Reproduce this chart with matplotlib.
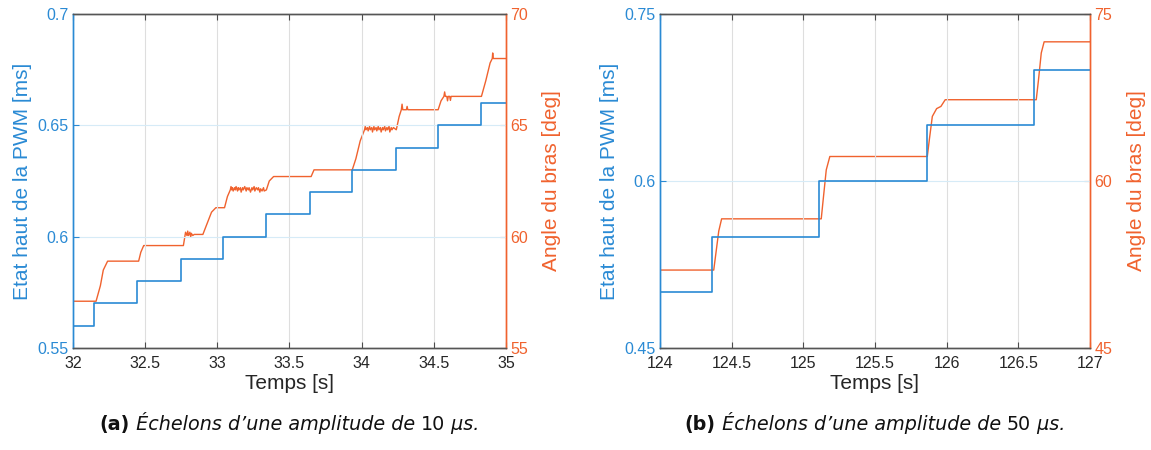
import numpy as np
import matplotlib
matplotlib.use("Agg")
import matplotlib.pyplot as plt

plt.rcParams['font.family'] = ['Liberation Sans', 'DejaVu Sans']

BLUE = '#2A8AD4'
ORANGE = '#F0622E'

# ---- panel (a): steps of 10 us ----
a_pwm_t = [32.0, 32.145, 32.445, 32.745, 33.04, 33.34, 33.64, 33.935, 34.235, 34.53, 34.83, 35.0]
a_pwm_v = [0.56, 0.57, 0.58, 0.59, 0.60, 0.61, 0.62, 0.63, 0.64, 0.65, 0.66, 0.66]

a_ang_t = [32.00, 32.16, 32.19, 32.21, 32.24, 32.455, 32.47, 32.49, 32.765, 32.775, 32.78,
           32.79, 32.795, 32.80, 32.81, 32.815, 32.82, 32.83, 32.84, 32.85, 32.90, 32.93,
           32.96, 32.99, 33.05, 33.07, 33.09,
           33.095, 33.10, 33.105, 33.11, 33.12, 33.125, 33.13, 33.14, 33.145, 33.15, 33.16,
           33.165, 33.175, 33.18, 33.19, 33.20, 33.205, 33.215, 33.22, 33.23, 33.24, 33.245,
           33.255, 33.26, 33.27, 33.28, 33.285, 33.295, 33.30, 33.31, 33.32, 33.325, 33.34,
           33.36, 33.39, 33.65, 33.67, 33.935, 33.96, 33.99, 34.02,
           34.025, 34.03, 34.04, 34.045, 34.055, 34.06, 34.07, 34.075, 34.085, 34.09, 34.10,
           34.105, 34.115, 34.12, 34.13, 34.135, 34.145, 34.15, 34.16, 34.165, 34.175, 34.18,
           34.19, 34.195, 34.205, 34.21, 34.22, 34.24,
           34.26, 34.275, 34.28, 34.285, 34.31, 34.315, 34.32, 34.53, 34.55, 34.57, 34.575,
           34.58, 34.59, 34.595, 34.60, 34.61, 34.615, 34.62, 34.83, 34.86, 34.89, 34.905,
           34.908, 34.912, 35.00]
a_ang_v = [57.1, 57.1, 57.8, 58.5, 58.9, 58.9, 59.3, 59.6, 59.6, 60.0, 60.2,
           60.05, 60.25, 60.05, 60.2, 60.0, 60.15, 60.05, 60.1, 60.1, 60.1, 60.6,
           61.1, 61.3, 61.3, 61.8, 62.1,
           62.25, 62.1, 62.2, 62.05, 62.2, 62.1, 62.25, 62.05, 62.2, 62.1, 62.2,
           62.0, 62.2, 62.1, 62.25, 62.05, 62.2, 62.1, 62.2, 62.0, 62.2, 62.1,
           62.25, 62.05, 62.2, 62.1, 62.2, 62.0, 62.15, 62.05, 62.2, 62.05, 62.1,
           62.5, 62.7, 62.7, 63.0, 63.0, 63.5, 64.3, 64.8,
           64.95, 64.8, 64.9, 64.75, 64.95, 64.8, 64.9, 64.7, 64.95, 64.8, 64.9,
           64.75, 64.95, 64.8, 64.9, 64.7, 64.9, 64.8, 64.95, 64.75, 64.9, 64.8,
           64.95, 64.7, 64.9, 64.8, 64.9, 64.8,
           65.4, 65.7, 65.95, 65.7, 65.7, 65.85, 65.7, 65.7, 66.1, 66.3, 66.5,
           66.3, 66.3, 66.1, 66.3, 66.3, 66.12, 66.3, 66.3, 67.0, 67.8, 68.0,
           68.25, 68.0, 68.0]

# ---- panel (b): steps of 50 us ----
b_pwm_t = [124.0, 124.36, 125.11, 125.86, 126.61, 127.0]
b_pwm_v = [0.50, 0.55, 0.60, 0.65, 0.70, 0.70]

b_ang_t = [124.00, 124.375, 124.39, 124.41, 124.43, 125.125, 125.14, 125.16, 125.185,
           125.865, 125.88, 125.90, 125.93, 125.96, 125.99, 126.625, 126.64, 126.66,
           126.68, 127.00]
b_ang_v = [52.0, 52.0, 53.5, 55.5, 56.6, 56.6, 58.5, 61.0, 62.2,
           62.2, 63.8, 65.8, 66.5, 66.7, 67.3, 67.3, 69.0, 71.5,
           72.5, 72.5]

panels = [
    dict(pos=[0.0634, 0.2267, 0.3762, 0.7422], xlim=(32, 35), xt=[32, 32.5, 33, 33.5, 34, 34.5, 35],
         xtl=['32', '32.5', '33', '33.5', '34', '34.5', '35'],
         ylim=(0.55, 0.7), yt=[0.55, 0.6, 0.65, 0.7], ytl=['0.55', '0.6', '0.65', '0.7'],
         y2lim=(55, 70), y2t=[55, 60, 65, 70],
         pt=a_pwm_t, pv=a_pwm_v, at=a_ang_t, av=a_ang_v,
         cap=('(a)', ' Échelons d\u2019une amplitude de ', '10', ' \u03bcs.')),
    dict(pos=[0.5734, 0.2267, 0.3736, 0.7422], xlim=(124, 127),
         xt=[124, 124.5, 125, 125.5, 126, 126.5, 127],
         xtl=['124', '124.5', '125', '125.5', '126', '126.5', '127'],
         ylim=(0.45, 0.75), yt=[0.45, 0.6, 0.75], ytl=['0.45', '0.6', '0.75'],
         y2lim=(45, 75), y2t=[45, 60, 75],
         pt=b_pwm_t, pv=b_pwm_v, at=b_ang_t, av=b_ang_v,
         cap=('(b)', ' Échelons d\u2019une amplitude de ', '50', ' \u03bcs.')),
]

fig = plt.figure(figsize=(11.51, 4.5), dpi=100)
caps = []
for p in panels:
    ax = fig.add_axes(p['pos'])
    ax2 = ax.twinx()
    ax.set_zorder(ax2.get_zorder() + 1)
    ax.patch.set_visible(False)

    # grid: vertical grey, horizontal light blue
    for x in p['xt'][1:-1]:
        ax.axvline(x, color='#DEDEDE', lw=0.8, zorder=0)
    for y in p['yt'][1:-1]:
        ax.axhline(y, color='#D6EBF7', lw=0.8, zorder=0)

    ax2.plot(p['at'], p['av'], color=ORANGE, lw=1.0)
    ax.step(p['pt'], p['pv'], where='post', color=BLUE, lw=1.2)

    ax.set_xlim(p['xlim'])
    ax.set_ylim(p['ylim'])
    ax2.set_ylim(p['y2lim'])
    ax.set_xticks(p['xt'])
    ax.set_xticklabels(p['xtl'])
    ax.set_yticks(p['yt'])
    ax.set_yticklabels(p['ytl'])
    ax2.set_yticks(p['y2t'])

    ax.tick_params(axis='x', direction='in', length=4, top=True, colors='#4D4D4D',
                   labelcolor='#262626', labelsize=11.5, pad=6)
    ax.tick_params(axis='y', direction='in', length=4, colors=BLUE, labelsize=11.5, pad=3)
    ax2.tick_params(axis='y', direction='in', length=4, colors=ORANGE, labelsize=11.5, pad=3)
    ax.tick_params(axis='y', right=False)

    for a in (ax, ax2):
        a.spines['top'].set_color('#555555')
        a.spines['bottom'].set_color('#555555')
        a.spines['left'].set_color(BLUE)
        a.spines['right'].set_color(ORANGE)
        for s in a.spines.values():
            s.set_linewidth(1.0)

    ax.set_xlabel('Temps [s]', fontsize=15, color='#262626', labelpad=2)
    ax.set_ylabel('Etat haut de la PWM [ms]', fontsize=15, color=BLUE, labelpad=4)
    ax2.set_ylabel('Angle du bras [deg]', fontsize=15, color=ORANGE, rotation=90, labelpad=10.5)

    # caption pieces: bold label, italic text, upright number, italic unit
    cx = p['pos'][0] + p['pos'][2] / 2
    styles = [dict(weight='bold'), dict(style='italic'), dict(), dict(style='italic')]
    ts = [fig.text(cx, 0.045, s, fontsize=13.8, family=['DejaVu Sans'], va='baseline',
                   color='#111111', **st) for s, st in zip(p['cap'], styles)]
    caps.append((cx, ts))

# lay caption pieces side by side, centred under each panel
fig.canvas.draw()
r = fig.canvas.get_renderer()
W = fig.bbox.width
for cx, ts in caps:
    widths = [t.get_window_extent(r).width / W for t in ts]
    x = cx - sum(widths) / 2
    for t, w in zip(ts, widths):
        t.set_x(x)
        t.set_ha('left')
        x += w

fig.savefig('out.png', dpi=100)
